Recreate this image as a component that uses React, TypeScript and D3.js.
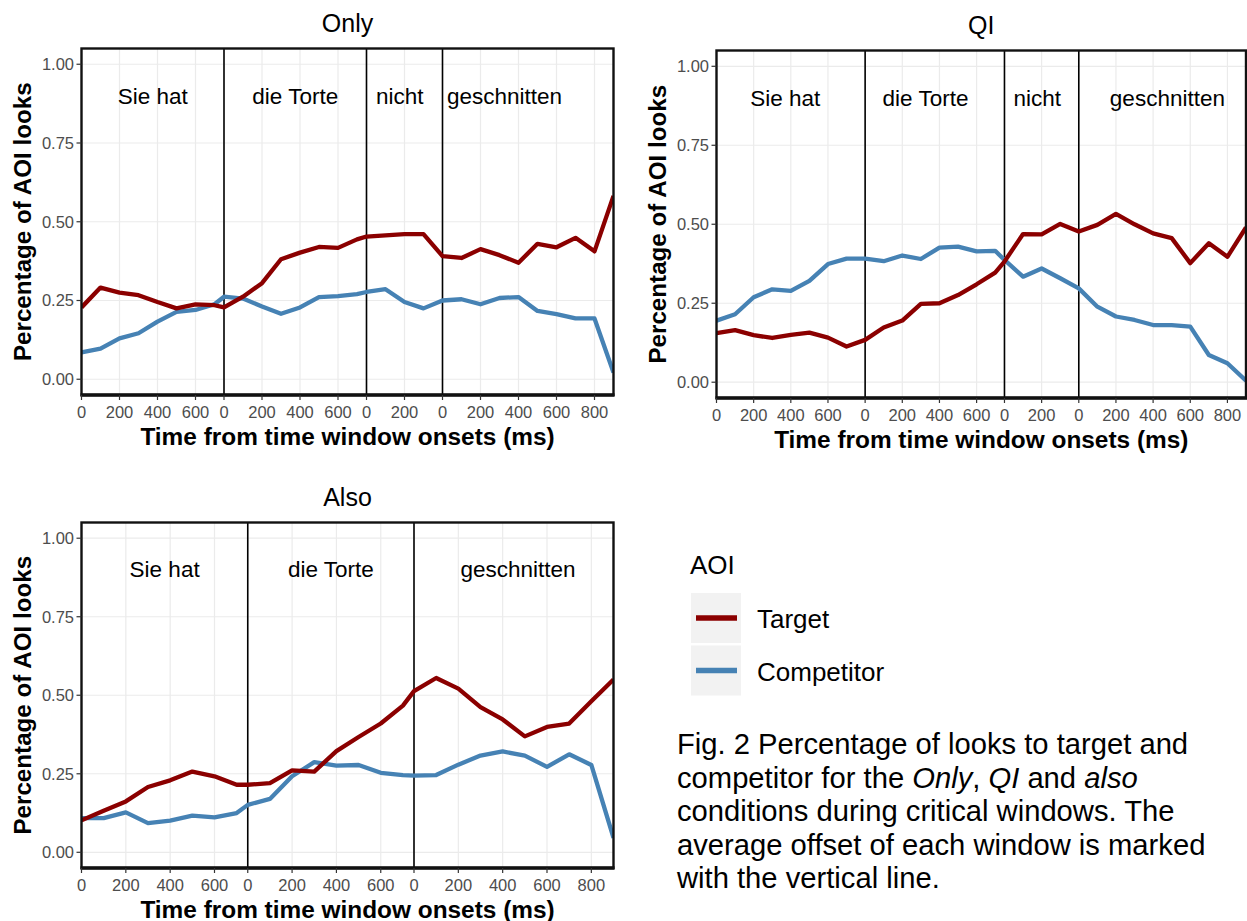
import React from "react";
import * as d3 from "d3";

const FONT = '"Liberation Sans", Arial, Helvetica, sans-serif';
const TARGET_COLOR = "#8B0000";
const COMP_COLOR = "#4682B4";

const Y_TICKS = [0, 0.25, 0.5, 0.75, 1];
const BIN_MS = 100;
const TICK_STEP_MS = 200;

// ---- Only ----
const ONLY_WINDOWS = [750, 750, 400, 900];
const ONLY_WORDS = ["Sie hat", "die Torte", "nicht", "geschnitten"];
const ONLY_WORD_POS = [375, 375, 175, 326];
const ONLY_TARGET = [
  0.228, 0.291, 0.275, 0.267, 0.245, 0.225, 0.238, 0.235,
  0.228, 0.262, 0.305, 0.381, 0.402, 0.42, 0.417, 0.444,
  0.453, 0.457, 0.461, 0.461,
  0.391, 0.385, 0.413, 0.394, 0.37, 0.43, 0.419, 0.449, 0.406, 0.582,
];
const ONLY_COMPETITOR = [
  0.085, 0.097, 0.13, 0.146, 0.183, 0.214, 0.22, 0.238,
  0.262, 0.256, 0.231, 0.208, 0.228, 0.261, 0.264, 0.27,
  0.277, 0.286, 0.245, 0.225,
  0.25, 0.254, 0.238, 0.258, 0.261, 0.217, 0.207, 0.193, 0.193, 0.021,
];

// ---- QI ----
const QI_WINDOWS = [800, 750, 400, 900];
const QI_WORDS = ["Sie hat", "die Torte", "nicht", "geschnitten"];
const QI_WORD_POS = [370, 325, 176, 477];
const QI_TARGET = [
  0.155, 0.165, 0.149, 0.14, 0.15, 0.157, 0.141, 0.113,
  0.134, 0.173, 0.195, 0.248, 0.25, 0.276, 0.31, 0.347,
  0.382, 0.469, 0.468, 0.501,
  0.477, 0.498, 0.533, 0.5, 0.471, 0.456, 0.377, 0.44, 0.397, 0.49,
];
const QI_COMPETITOR = [
  0.195, 0.215, 0.269, 0.294, 0.289, 0.321, 0.374, 0.391,
  0.391, 0.383, 0.401, 0.39, 0.426, 0.429, 0.414, 0.416,
  0.387, 0.334, 0.36, 0.329,
  0.297, 0.239, 0.208, 0.197, 0.181, 0.181, 0.176, 0.086, 0.06, 0.005,
];

// ---- Also ----
const ALSO_WINDOWS = [750, 750, 900];
const ALSO_WORDS = ["Sie hat", "die Torte", "geschnitten"];
const ALSO_WORD_POS = [375, 375, 469];
const ALSO_TARGET = [
  0.102, 0.132, 0.162, 0.208, 0.229, 0.257, 0.242, 0.215,
  0.215, 0.22, 0.261, 0.257, 0.322, 0.367, 0.41, 0.467,
  0.513, 0.555, 0.521, 0.462, 0.423, 0.369, 0.399, 0.41, 0.481, 0.55,
];
const ALSO_COMPETITOR = [
  0.109, 0.109, 0.127, 0.093, 0.101, 0.117, 0.111, 0.125,
  0.151, 0.17, 0.242, 0.287, 0.276, 0.278, 0.253, 0.246,
  0.244, 0.246, 0.279, 0.308, 0.321, 0.308, 0.272, 0.312, 0.278, 0.046,
];

const LEGEND_TITLE = "AOI";
const LEGEND_LABELS = ["Target", "Competitor"];
const LEGEND_COLORS = [TARGET_COLOR, COMP_COLOR];

const X_TITLE = "Time from time window onsets (ms)";
const Y_TITLE = "Percentage of AOI looks";

function sampleTimes(windows: number[]) {
  const times: number[] = [];
  let start = 0;
  windows.forEach((w, i) => {
    const last = i === windows.length - 1;
    for (let t = 0; last ? t <= w : t < w; t += BIN_MS) times.push(start + t);
    start += w;
  });
  return times;
}

function windowStarts(windows: number[]) {
  const s: number[] = [];
  let c = 0;
  windows.forEach((w) => {
    s.push(c);
    c += w;
  });
  return s;
}

function tickList(windows: number[]) {
  const ticks: { pos: number; label: string }[] = [];
  let start = 0;
  windows.forEach((w) => {
    for (let t = 0; t < w; t += TICK_STEP_MS) ticks.push({ pos: start + t, label: String(t) });
    start += w;
  });
  return ticks;
}

type PanelProps = {
  id: string;
  title: string;
  left: number;
  right: number;
  top: number;
  bottom: number;
  windows: number[];
  words: string[];
  wordPos: number[];
  target: number[];
  competitor: number[];
};

function Panel(p: PanelProps) {
  const total = d3.sum(p.windows);
  const x = d3.scaleLinear().domain([0, total]).range([p.left, p.right]);
  const y = d3.scaleLinear().domain([-0.05, 1.05]).range([p.bottom, p.top]);
  const times = sampleTimes(p.windows);
  const starts = windowStarts(p.windows);
  const ticks = tickList(p.windows);
  const line = d3
    .line<number>()
    .x((_, i) => x(times[i]))
    .y((d) => y(d));
  const cx = (p.left + p.right) / 2;
  const cy = (p.top + p.bottom) / 2;
  return (
    <g>
      <defs>
        <clipPath id={`clip-${p.id}`}>
          <rect x={p.left} y={p.top} width={p.right - p.left} height={p.bottom - p.top} />
        </clipPath>
      </defs>
      <rect x={p.left} y={p.top} width={p.right - p.left} height={p.bottom - p.top} fill="#fff" />
      {Y_TICKS.map((t) => (
        <line key={`gy${t}`} x1={p.left} x2={p.right} y1={y(t)} y2={y(t)} stroke="#EBEBEB" strokeWidth={1.2} />
      ))}
      {ticks.map((t, i) => (
        <line key={`gx${i}`} x1={x(t.pos)} x2={x(t.pos)} y1={p.top} y2={p.bottom} stroke="#EBEBEB" strokeWidth={1.2} />
      ))}
      {starts.slice(1).map((s, i) => (
        <line key={`w${i}`} x1={x(s)} x2={x(s)} y1={p.top} y2={p.bottom} stroke="#000" strokeWidth={1.6} />
      ))}
      {p.words.map((w, i) => (
        <text
          key={`word${i}`}
          x={x(starts[i] + p.wordPos[i])}
          y={y(0.9)}
          dy="0.35em"
          textAnchor="middle"
          fontSize={22.5}
          fontFamily={FONT}
          fill="#000"
        >
          {w}
        </text>
      ))}
      <g clipPath={`url(#clip-${p.id})`}>
        <path d={line(p.competitor) || ""} fill="none" stroke={COMP_COLOR} strokeWidth={4.3} strokeLinejoin="round" />
        <path d={line(p.target) || ""} fill="none" stroke={TARGET_COLOR} strokeWidth={4.3} strokeLinejoin="round" />
      </g>
      <rect
        x={p.left}
        y={p.top}
        width={p.right - p.left}
        height={p.bottom - p.top}
        fill="none"
        stroke="#111"
        strokeWidth={2.4}
      />
      <line x1={p.left - 1} x2={p.right + 1} y1={p.bottom} y2={p.bottom} stroke="#111" strokeWidth={3.4} />
      {Y_TICKS.map((t) => (
        <g key={`yt${t}`}>
          <line x1={p.left - 5} x2={p.left} y1={y(t)} y2={y(t)} stroke="#333" strokeWidth={1.2} />
          <text
            x={p.left - 7.5}
            y={y(t)}
            dy="0.36em"
            textAnchor="end"
            fontSize={16.5}
            fontFamily={FONT}
            fill="#4D4D4D"
          >
            {d3.format(".2f")(t)}
          </text>
        </g>
      ))}
      {ticks.map((t, i) => (
        <g key={`xt${i}`}>
          <line x1={x(t.pos)} x2={x(t.pos)} y1={p.bottom} y2={p.bottom + 5} stroke="#333" strokeWidth={1.2} />
          <text
            x={x(t.pos)}
            y={p.bottom + 23}
            textAnchor="middle"
            fontSize={16.5}
            fontFamily={FONT}
            fill="#4D4D4D"
          >
            {t.label}
          </text>
        </g>
      ))}
      <text x={cx} y={p.top - 17} textAnchor="middle" fontSize={25} fontFamily={FONT} fill="#000">
        {p.title}
      </text>
      <text
        x={cx}
        y={p.bottom + 49.5}
        textAnchor="middle"
        fontSize={24.4}
        fontWeight="bold"
        fontFamily={FONT}
        fill="#000"
      >
        {X_TITLE}
      </text>
      <text
        transform={`translate(${p.left - 50.5},${cy}) rotate(-90)`}
        textAnchor="middle"
        fontSize={24.2}
        fontWeight="bold"
        fontFamily={FONT}
        fill="#000"
      >
        {Y_TITLE}
      </text>
    </g>
  );
}

export default function App() {
  return (
    <svg
      width={1247}
      height={921}
      style={{ position: "absolute", left: 0, top: 0, background: "#fff" }}
    >
      <rect x={0} y={0} width={1247} height={921} fill="#fff" />
      <Panel
        id="only"
        title="Only"
        left={81.5}
        right={613.5}
        top={48.5}
        bottom={395}
        windows={ONLY_WINDOWS}
        words={ONLY_WORDS}
        wordPos={ONLY_WORD_POS}
        target={ONLY_TARGET}
        competitor={ONLY_COMPETITOR}
      />
      <Panel
        id="qi"
        title="QI"
        left={716.5}
        right={1246}
        top={50.5}
        bottom={398}
        windows={QI_WINDOWS}
        words={QI_WORDS}
        wordPos={QI_WORD_POS}
        target={QI_TARGET}
        competitor={QI_COMPETITOR}
      />
      <Panel
        id="also"
        title="Also"
        left={81.5}
        right={613.5}
        top={522.5}
        bottom={868}
        windows={ALSO_WINDOWS}
        words={ALSO_WORDS}
        wordPos={ALSO_WORD_POS}
        target={ALSO_TARGET}
        competitor={ALSO_COMPETITOR}
      />
      {/* Legend */}
      <text x={690} y={574} fontSize={26} fontFamily={FONT} fill="#000">
        {LEGEND_TITLE}
      </text>
      {LEGEND_LABELS.map((l, i) => (
        <g key={l}>
          <rect x={691} y={593 + i * 52.5} width={50} height={50} fill="#F2F2F2" />
          <line
            x1={696}
            x2={737}
            y1={618 + i * 52.5}
            y2={618 + i * 52.5}
            stroke={LEGEND_COLORS[i]}
            strokeWidth={5.5}
          />
          <text x={757} y={628 + i * 52.5} fontSize={26} fontFamily={FONT} fill="#000">
            {l}
          </text>
        </g>
      ))}
      {/* Caption */}
      <g fontFamily={FONT} fontSize={29.2} fill="#000">
        <text x={677} y={754}>Fig. 2 Percentage of looks to target and</text>
        <text x={677} y={787.5}>
          competitor for the <tspan fontStyle="italic">Only</tspan>, <tspan fontStyle="italic">QI</tspan> and{" "}
          <tspan fontStyle="italic">also</tspan>
        </text>
        <text x={677} y={821}>conditions during critical windows. The</text>
        <text x={677} y={854.5}>average offset of each window is marked</text>
        <text x={677} y={888}>with the vertical line.</text>
      </g>
    </svg>
  );
}
